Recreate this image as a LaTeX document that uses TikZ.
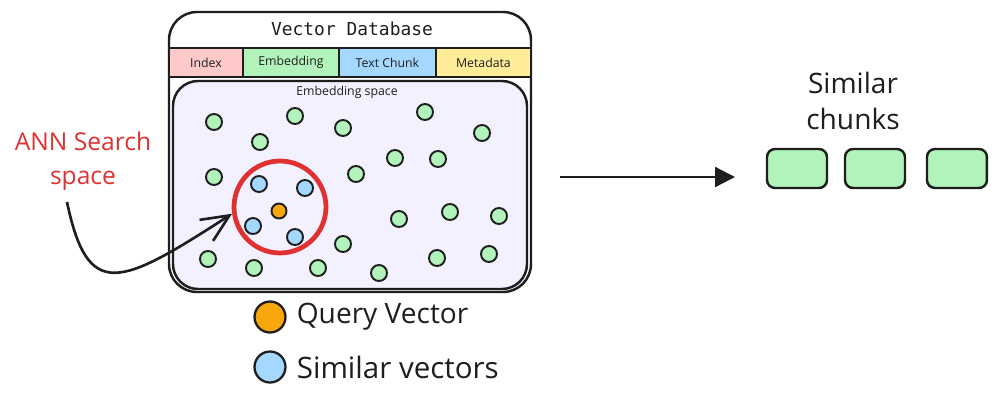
\documentclass[tikz,border=0pt]{standalone}
\usepackage{fontspec}
\setmainfont{Open Sans}
\newfontfamily\codefont{DejaVu Sans Mono}
\usetikzlibrary{arrows.meta,positioning}

\definecolor{inkblack}{HTML}{1E1E1E}
\definecolor{cellpink}{HTML}{FFC9C9}
\definecolor{cellgreen}{HTML}{B2F2BB}
\definecolor{cellblue}{HTML}{A5D8FF}
\definecolor{cellyellow}{HTML}{FFEC99}
\definecolor{spacefill}{HTML}{F3F0FF}
\definecolor{queryorange}{HTML}{F8A70C}
\definecolor{annred}{HTML}{E03131}

\tikzset{
  boxline/.style={draw=inkblack, line width=1.4pt},
  headcell/.style={boxline, rectangle, outer sep=0pt, minimum height=0.58cm,
    font=\fontsize{7}{8}\selectfont, text=inkblack},
  vecdot/.style={circle, draw=inkblack, line width=1.1pt, inner sep=0pt, minimum size=0.32cm},
  legenddot/.style={circle, draw=inkblack, line width=1.3pt, inner sep=0pt, minimum size=0.62cm},
  chunkbox/.style={boxline, rounded corners=0.16cm, fill=cellgreen, minimum width=1.2cm,
    minimum height=0.78cm, outer sep=0pt},
  handtext/.style={font=\fontsize{16}{19}\selectfont, text=inkblack},
}

\begin{document}
\begin{tikzpicture}[x=0.02cm, y=-0.02cm]
\useasboundingbox (0,0) rectangle (1000,400);

% database box
\draw[boxline, rounded corners=0.56cm] (169,12) rectangle (531,292);
\node[font=\codefont\fontsize{10.2}{12}\selectfont, text=inkblack] (dbtitle) at (352,29) {Vector Database};

% header row
\node[headcell, fill=cellpink, minimum width=1.48cm] (hindex) at (206,62.5) {Index};
\node[headcell, fill=cellgreen, minimum width=1.92cm, right=0pt of hindex] (hembed) {Embedding};
\node[headcell, fill=cellblue, minimum width=1.94cm, right=0pt of hembed] (htext) {Text Chunk};
\node[headcell, fill=cellyellow, minimum width=1.90cm, right=0pt of htext] (hmeta) {Metadata};

% embedding space
\draw[boxline, fill=spacefill, rounded corners=0.5cm] (173,81) rectangle (527,289);
\node[font=\fontsize{7}{8}\selectfont, text=inkblack] (spacelabel) at (347,92) {Embedding space};

% stored vectors
\foreach \px/\py [count=\i] in {214/122, 295/116, 343/128, 425/112, 482/133, 260/142,
    395/158, 438/159, 214/177, 356/174, 399/219, 450/212, 499/216, 343/244,
    208/259, 254/268, 318/268, 379/273, 437/258, 489/254}
  \node[vecdot, fill=cellgreen] (gdot\i) at (\px,\py) {};

% similar vectors and query
\foreach \px/\py [count=\i] in {259/184, 305/188, 253/226, 295/237}
  \node[vecdot, fill=cellblue] (sdot\i) at (\px,\py) {};
\node[vecdot, fill=queryorange, minimum size=0.3cm] (qdot) at (279,211) {};

% ANN search space
\node[circle, draw=annred, line width=2.7pt, minimum size=1.84cm] (annring) at (280,207) {};
\node[text=annred, align=center, font=\fontsize{14}{19}\selectfont] (annlabel) at (83,161) {ANN Search\\space};
\coordinate (annstart) at (67,202);
\draw[inkblack, line width=1.5pt, -{Straight Barb[length=0.55cm, width=0.5cm]}]
  (annstart) .. controls (88,302) and (120,286) .. (annring.188);

% legend
\node[legenddot, fill=queryorange] (querydot) at (270,317) {};
\node[handtext, right=0.08cm of querydot] (querylabel) {Query Vector};
\node[legenddot, fill=cellblue] (simdot) at (270,367) {};
\node[handtext, font=\fontsize{16.8}{19}\selectfont, right=0.08cm of simdot] (simlabel) {Similar vectors};

% output
\coordinate (dbout) at (560,177);
\coordinate (chunksin) at (735,177);
\draw[inkblack, line width=1.3pt, -{Triangle[length=0.4cm, width=0.4cm]}] (dbout) -- (chunksin);

\node[chunkbox] (chunk1) at (797,168.5) {};
\node[chunkbox, right=0.36cm of chunk1] (chunk2) {};
\node[chunkbox, right=0.44cm of chunk2] (chunk3) {};
\node[text=inkblack, align=center, font=\fontsize{16}{21}\selectfont] (chunkslabel) at (853,101) {Similar\\chunks};
\end{tikzpicture}
\end{document}
